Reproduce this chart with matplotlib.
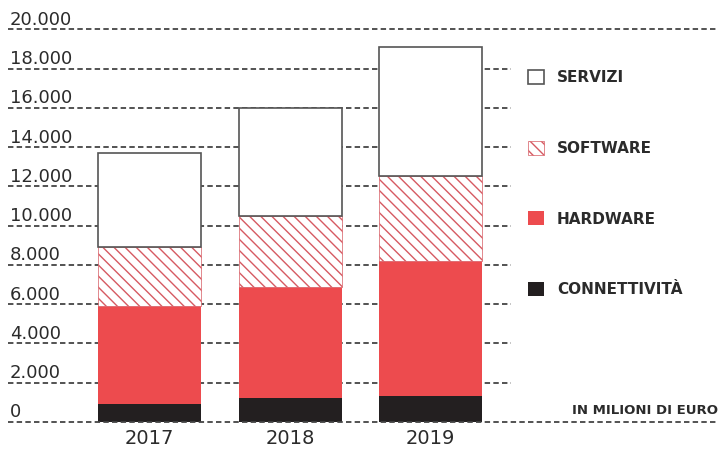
import numpy as np
import matplotlib.pyplot as plt

anni = ["2017", "2018", "2019"]
connettivita = [900, 1200, 1300]
hardware = [5000, 5700, 6900]
software = [3000, 3600, 4350]
servizi = [4800, 5500, 6550]
yticks = [0, 2000, 4000, 6000, 8000, 10000, 12000, 14000, 16000, 18000, 20000]
ytick_labels = ["0", "2.000", "4.000", "6.000", "8.000", "10.000",
                "12.000", "14.000", "16.000", "18.000", "20.000"]

ROSSO = "#ed4b4e"
NERO = "#231f20"
TESTO = "#2b2b2b"

plt.rcParams['font.family'] = ['DejaVu Sans']
plt.rcParams['hatch.linewidth'] = 1.0

W, H = 718, 450
fig = plt.figure(figsize=(W / 100, H / 100), dpi=100)
# asse: 0 a y=422px, 20.000 a y=29px
ax = fig.add_axes([0, (H - 422) / H, 1, (422 - 29.3) / H])

x0, passo = 149.5, 140.5   # centro prima barra e distanza in px
ax.set_xlim(-x0 / passo, (W - x0) / passo)
ax.set_ylim(0, 20000)

x = np.arange(len(anni))
c = np.array(connettivita)
h = np.array(hardware)
s = np.array(software)
v = np.array(servizi)
larg = 103 / passo

b_conn = ax.bar(x, c, larg, color=NERO, linewidth=0, zorder=2)
b_hw = ax.bar(x, h, larg, bottom=c, color=ROSSO, linewidth=0, zorder=2)
b_sw = ax.bar(x, s, larg, bottom=c + h, facecolor="white", edgecolor="#d65a62",
              hatch="\\" * 3, linewidth=0.5, zorder=2)
b_serv = ax.bar(x, v, larg, bottom=c + h + s, facecolor="white", edgecolor="#555555",
                linewidth=1.2, zorder=2)

# griglia tratteggiata
px = lambda p: (p - x0) / passo
for val, lab in zip(yticks, ytick_labels):
    fine = W if val in (0, 20000) else 511
    ax.hlines(val, px(8), px(fine), colors="#444444", linewidth=1.3,
              linestyles=(0, (3, 1.8)), clip_on=False,
              zorder=3 if val == 0 else 1)
    ax.text(px(10), val + 230, lab, fontsize=13, color=TESTO,
            ha="left", va="baseline")

ax.set_xticks(x, anni)
ax.tick_params(axis="x", length=0, pad=5, labelsize=14, labelcolor=TESTO)
ax.set_yticks([])
for sp in ax.spines.values():
    sp.set_visible(False)

leg = ax.legend([b_serv, b_sw, b_hw, b_conn],
                ["SERVIZI", "SOFTWARE", "HARDWARE", "CONNETTIVITÀ"],
                loc="upper left", bbox_to_anchor=(528 / W, (H - 70) / H),
                bbox_transform=fig.transFigure, frameon=False,
                prop={"size": 11, "weight": "bold"},
                handlelength=1.05, handleheight=1.05, handletextpad=0.85,
                labelspacing=3.62, borderpad=0, borderaxespad=0)
for t in leg.get_texts():
    t.set_color(TESTO)

fig.text(1.0, (H - 414) / H, "IN MILIONI DI EURO", ha="right", va="baseline",
         fontsize=9.5, fontweight="bold", color=TESTO)

fig.savefig("out.png", dpi=100)
